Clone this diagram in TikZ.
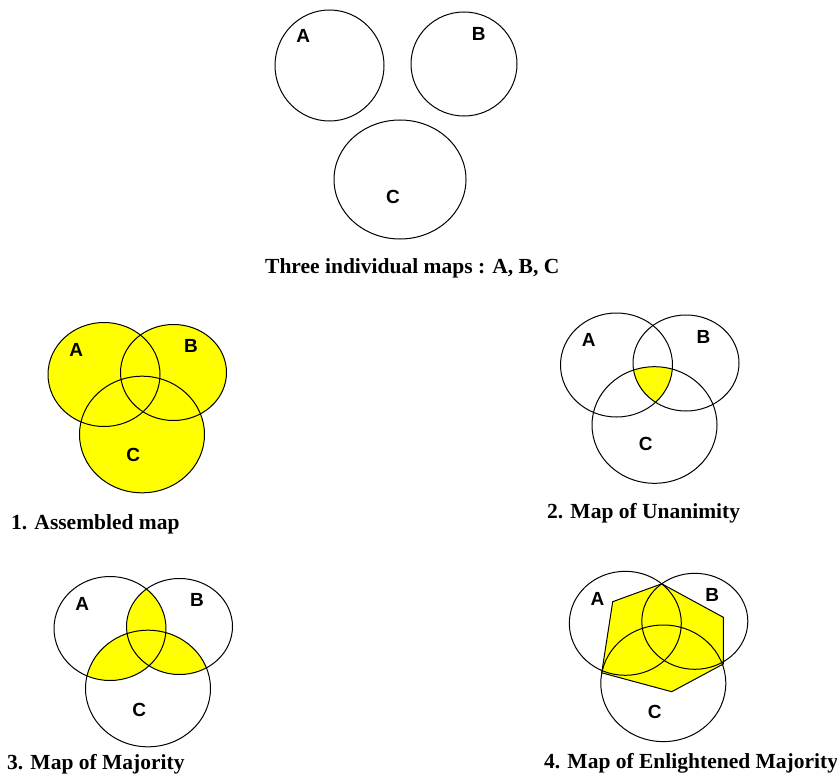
\documentclass[tikz,border=0pt]{standalone}
\usepackage{fontspec}
\setmainfont{Liberation Serif}
\newfontfamily\ringfont{Liberation Sans}
\usepackage{tikz}
\definecolor{venn-yellow}{RGB}{255,255,0}
\tikzset{
  venn-ring/.style={draw=black, line width=1pt},
  venn-area/.style={fill=venn-yellow},
  venn-label/.style={font=\ringfont\bfseries\fontsize{19}{19}\selectfont, inner sep=0pt},
  map-caption/.style={font=\bfseries\fontsize{21.5}{24}\selectfont, anchor=base west, inner sep=0pt}
}
\newcommand{\ringA}{(-38,-60) ellipse [x radius=56pt, y radius=52pt]}
\newcommand{\ringB}{(31.5,-62) ellipse [x radius=53pt, y radius=48pt]}
\newcommand{\ringC}{(0,0) ellipse [x radius=62.5pt, y radius=58.3pt]}

\begin{document}
\begin{tikzpicture}[x=1pt, y=-1pt]
  \path[use as bounding box, fill=white] (0,0) rectangle (837,781);
  \draw[venn-ring] (329.5,65.5) ellipse [x radius=54.5pt, y radius=55.5pt];
  \draw[venn-ring] (464,64) ellipse [x radius=53pt, y radius=52pt];
  \draw[venn-ring] (400,179.5) ellipse [x radius=66pt, y radius=59.5pt];
  \node[venn-label] (single-A) at (303.3,35.5) {A};
  \node[venn-label] (single-B) at (478.8,33.8) {B};
  \node[venn-label] (single-C) at (393,196.7) {C};
  \node[map-caption] (single-cap) at (265,273) {Three individual maps : A, B, C};
  \begin{scope}[shift={(142,434.5)}]
    \fill[venn-area] \ringA; \fill[venn-area] \ringB; \fill[venn-area] \ringC;
  \end{scope}
  \begin{scope}[shift={(654.5,425)}]
    \clip \ringA; \clip \ringB; \fill[venn-area] \ringC;
  \end{scope}
  \begin{scope}[shift={(148,688.5)}]
    \begin{scope} \clip \ringA; \fill[venn-area] \ringB; \fill[venn-area] \ringC; \end{scope}
    \begin{scope} \clip \ringB; \fill[venn-area] \ringC; \end{scope}
  \end{scope}
  \begin{scope}[shift={(663.3,683.3)}]
    \filldraw[venn-area, venn-ring] (-50.6,-81.6) -- (-1.6,-99.5) -- (60,-66) -- (60,-19.3) -- (8.4,8.4) -- (-61.6,-10.5) -- cycle;
  \end{scope}
  \foreach \name/\cx/\cy/\cl in {assembled/142/434.5/20.5, unanimity/654.5/425/19, majority/148/688.5/21.5, enlightened/663.3/683.3/28.4} {
    \begin{scope}[shift={(\cx,\cy)}]
      \draw[venn-ring] \ringA; \draw[venn-ring] \ringB; \draw[venn-ring] \ringC;
      \node[venn-label] (\name-A) at (-65.7,-84.6) {A};
      \node[venn-label] (\name-B) at (49,-88.5) {B};
      \node[venn-label] (\name-C) at (-8.7,\cl) {C};
    \end{scope}
  }
  \node[map-caption] (assembled-cap) at (11,529) {1. Assembled map};
  \node[map-caption] (unanimity-cap) at (547,518) {2. Map of Unanimity};
  \node[map-caption] (majority-cap) at (7,769) {3. Map of Majority};
  \node[map-caption] (enlightened-cap) at (544,768) {4. Map of Enlightened Majority};
\end{tikzpicture}
\end{document}
